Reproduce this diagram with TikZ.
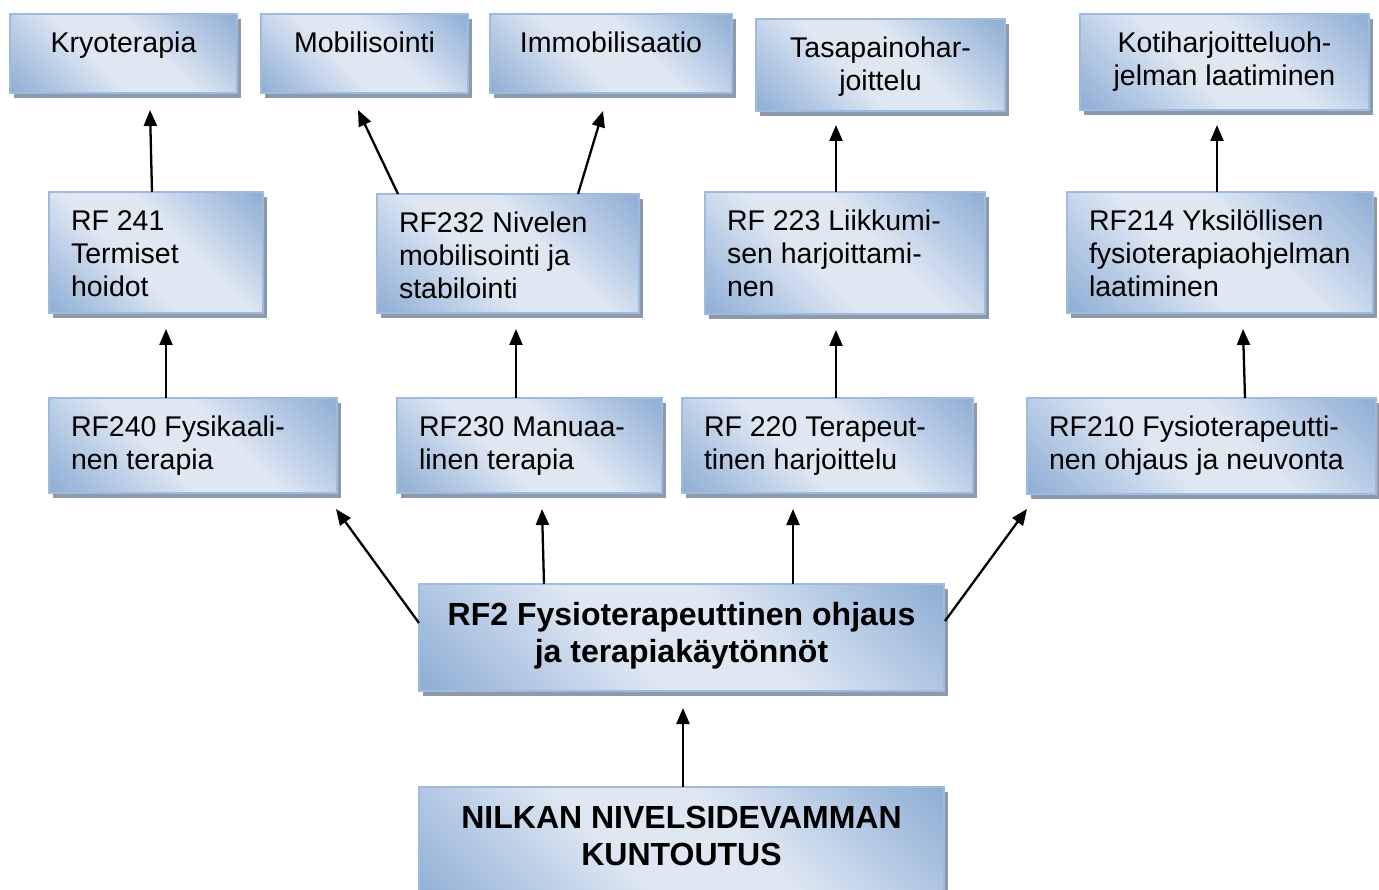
\documentclass[tikz,border=0pt]{standalone}
\usepackage{fontspec}
\setmainfont{Liberation Sans}
\usetikzlibrary{arrows.meta,shadows,calc}
\definecolor{boxdark}{RGB}{146,176,213}
\definecolor{boxmid}{RGB}{186,205,230}
\definecolor{boxlight}{RGB}{222,231,242}
\definecolor{boxline}{RGB}{158,186,222}
\definecolor{shadowgray}{RGB}{141,154,171}
\pgfdeclareverticalshading{boxshade}{100bp}{color(0bp)=(boxdark); color(16bp)=(boxdark); color(30bp)=(boxmid); color(42bp)=(boxlight); color(58bp)=(boxlight); color(70bp)=(boxmid); color(84bp)=(boxdark); color(100bp)=(boxdark)}
\newcommand{\boxtxtC}[3]{\parbox[c][#2][t]{#1}{\centering\rule{0pt}{38.5pt}#3}}
\newcommand{\boxtxtL}[3]{\parbox[c][#2][t]{#1}{\raggedright\leftskip=22pt\rule{0pt}{38.5pt}#3}}
\newcommand{\boxtxtB}[3]{\parbox[c][#2][t]{#1}{\centering\rule{0pt}{41.5pt}#3}}
\tikzset{
  box/.style={draw=boxline, line width=1.4pt, inner sep=0pt, outer sep=0pt,
    anchor=north west,
    shade, shading=boxshade, shading angle=-45,
    drop shadow={shadow xshift=4pt, shadow yshift=-5pt, fill=shadowgray, opacity=1},
    font=\fontsize{28.5pt}{32.8pt}\selectfont},
  boldbox/.style={box, font=\fontsize{32pt}{37pt}\selectfont\bfseries},
  arr/.style={line width=2.3pt, -{Triangle[length=16pt,width=13pt]}}
}
\begin{document}
\begin{tikzpicture}[x=1pt,y=-1pt]
\path[use as bounding box, fill=white] (0,0) rectangle (1379,890);
% top row
\node[box] (kryo) at (10,14) {\boxtxtC{227pt}{79pt}{Kryoterapia}};
\node[box] (mobil) at (261,14) {\boxtxtC{207pt}{79pt}{Mobilisointi}};
\node[box] (immob) at (490,14) {\boxtxtC{242pt}{79pt}{Immobilisaatio}};
\node[box] (tasa) at (756,19) {\boxtxtC{249pt}{92pt}{Tasapainohar-\\joittelu}};
\node[box] (koti) at (1080,14) {\boxtxtC{289pt}{96pt}{Kotiharjoitteluoh-\\jelman laatiminen}};
% second row
\node[box] (rf241) at (49,192) {\boxtxtL{214pt}{121pt}{RF 241\\Termiset\\hoidot}};
\node[box] (rf232) at (377,194) {\boxtxtL{262pt}{119pt}{RF232 Nivelen\\mobilisointi ja\\stabilointi}};
\node[box] (rf223) at (705,192) {\boxtxtL{280pt}{122pt}{RF 223 Liikkumi-\\sen harjoittami-\\nen}};
\node[box] (rf214) at (1067,192) {\boxtxtL{306pt}{121pt}{RF214 Yksilöllisen\\fysioterapiaohjelman\\laatiminen}};
% third row
\node[box] (rf240) at (49,398) {\boxtxtL{288pt}{95pt}{RF240 Fysikaali-\\nen terapia}};
\node[box] (rf230) at (397,398) {\boxtxtL{265pt}{95pt}{RF230 Manuaa-\\linen terapia}};
\node[box] (rf220) at (682,398) {\boxtxtL{291pt}{95pt}{RF 220 Terapeut-\\tinen harjoittelu}};
\node[box] (rf210) at (1027,398) {\boxtxtL{349pt}{96pt}{RF210 Fysioterapeutti-\\nen ohjaus ja neuvonta}};
% bottom
\node[boldbox] (rf2) at (419,584) {\boxtxtB{525pt}{107pt}{RF2 Fysioterapeuttinen ohjaus\\ja terapiakäytönnöt}};
\node[boldbox] (nilkan) at (419,787) {\boxtxtB{525pt}{120pt}{NILKAN NIVELSIDEVAMMAN\\KUNTOUTUS}};
% arrows
\draw[arr] ($(rf241.north west)+(103,0)$) -- ($(kryo.south west)+(140,17)$);
\draw[arr] ($(rf232.north west)+(21,0)$) -- ($(mobil.south west)+(97,17)$);
\draw[arr] ($(rf232.north west)+(201,0)$) -- ($(immob.south west)+(113,18)$);
\draw[arr] ($(rf223.north west)+(131,0)$) -- ($(tasa.south west)+(80,14)$);
\draw[arr] ($(rf214.north west)+(150,0)$) -- ($(koti.south west)+(137,15)$);
\draw[arr] ($(rf240.north west)+(117,0)$) -- ($(rf241.south west)+(117,16)$);
\draw[arr] ($(rf230.north west)+(119,0)$) -- ($(rf232.south west)+(139,16)$);
\draw[arr] ($(rf220.north west)+(154,0)$) -- ($(rf223.south west)+(131,16)$);
\draw[arr] ($(rf210.north west)+(218,0)$) -- ($(rf214.south west)+(176,16)$);
\draw[arr] ($(rf2.north west)+(0,39)$) -- ($(rf240.south east)+(-1,16)$);
\draw[arr] ($(rf2.north west)+(125,0)$) -- ($(rf230.south west)+(145,16)$);
\draw[arr] ($(rf2.north west)+(374,0)$) -- ($(rf220.south west)+(111,16)$);
\draw[arr] ($(rf2.north east)+(1,37)$) -- ($(rf210.south west)+(0,15)$);
\draw[arr] ($(nilkan.north west)+(264,0)$) -- ($(rf2.south west)+(264,17)$);
\end{tikzpicture}
\end{document}
